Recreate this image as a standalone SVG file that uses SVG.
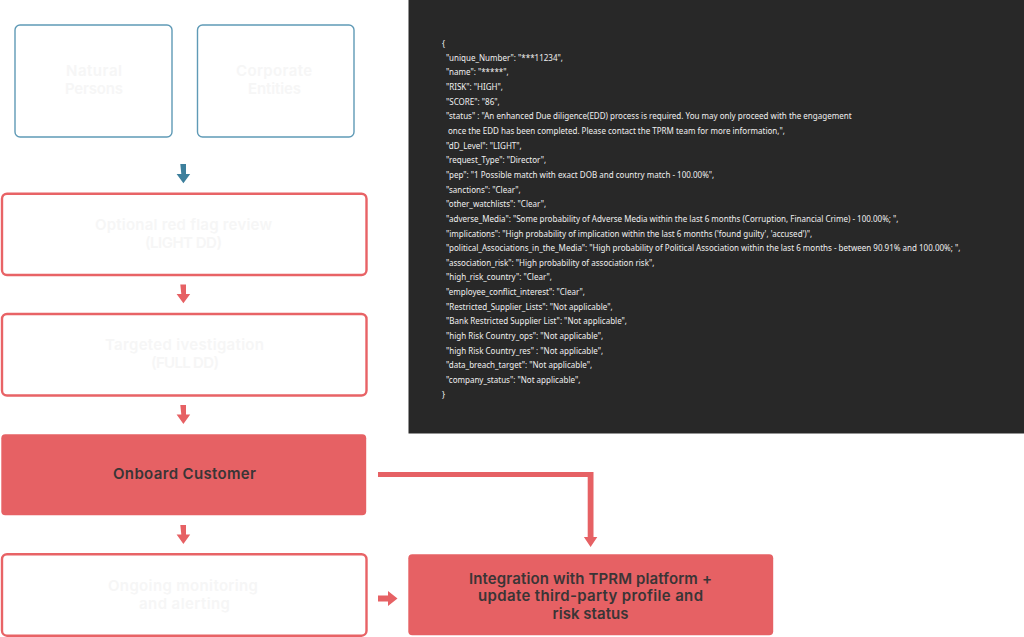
<svg xmlns="http://www.w3.org/2000/svg" width="1024" height="637" viewBox="0 0 1024 637">
<style>
.box{fill:#fff;stroke:#e86366;stroke-width:2.4}
.ent{fill:#fff;stroke:#5f9ab6;stroke-width:1.4}
.solid{fill:#e66164}
text{font-family:"Inter","Liberation Sans",sans-serif;font-weight:600;text-anchor:middle}
.lab{font-size:15px;fill:#f6f6f6}
.dark{font-size:15px;fill:#3a3536}
.j{font-family:"Noto Sans","Open Sans",sans-serif;font-size:8.03px;font-weight:400;fill:#f0f0f0;text-anchor:start}
.ar{fill:#e66164}
.bl{fill:#3d7f9c}
</style>
<rect width="1024" height="637" fill="#fff"/>
<g id="json-panel">
<rect x="408.500" y="0" width="615.500" height="433.500" fill="#282828"/>
<text class="j" x="442" y="46.500">{</text>
<text class="j" x="446" y="60.500">"unique_Number": "***11234",</text>
<text class="j" x="446" y="75">"name": "*****",</text>
<text class="j" x="446" y="89.800">"RISK": "HIGH",</text>
<text class="j" x="446" y="104.500">"SCORE": "86",</text>
<text class="j" x="446" y="119">"status" : "An enhanced Due diligence(EDD) process is required. You may only proceed with the engagement</text>
<text class="j" x="448" y="133.800">once the EDD has been completed. Please contact the TPRM team for more information,",</text>
<text class="j" x="446" y="148.500">"dD_Level": "LIGHT",</text>
<text class="j" x="446" y="163">"request_Type": "Director",</text>
<text class="j" x="446" y="177.800">"pep": "1 Possible match with exact DOB and country match - 100.00%",</text>
<text class="j" x="446" y="192.500">"sanctions": "Clear",</text>
<text class="j" x="446" y="207">"other_watchlists": "Clear",</text>
<text class="j" x="446" y="221.800">"adverse_Media": "Some probability of Adverse Media within the last 6 months (Corruption, Financial Crime) - 100.00%; ",</text>
<text class="j" x="446" y="236.500">"implications": "High probability of implication within the last 6 months ('found guilty', 'accused')",</text>
<text class="j" x="446" y="251">"political_Associations_in_the_Media": "High probability of Political Association within the last 6 months - between 90.91% and 100.00%; ",</text>
<text class="j" x="446" y="265.800">"association_risk": "High probability of association risk",</text>
<text class="j" x="446" y="280">"high_risk_country": "Clear",</text>
<text class="j" x="446" y="295">"employee_conflict_interest": "Clear",</text>
<text class="j" x="446" y="309.500">"Restricted_Supplier_Lists": "Not applicable",</text>
<text class="j" x="446" y="324">"Bank Restricted Supplier List": "Not applicable",</text>
<text class="j" x="446" y="338.800">"high Risk Country_ops": "Not applicable",</text>
<text class="j" x="446" y="353.500">"high Risk Country_res" : "Not applicable",</text>
<text class="j" x="446" y="368">"data_breach_target": "Not applicable",</text>
<text class="j" x="446" y="382.800">"company_status": "Not applicable",</text>
<text class="j" x="442" y="398">}</text>
</g>
<g id="connectors">
<path class="bl" d="M180.300 164h5.700v10h4.200l-6.800 9.300-6.800-9.300h4.700z"/>
<path class="ar" d="M180.300 284.500h5.700v9.500h4.200l-6.800 9.300-6.800-9.300h4.700z"/>
<path class="ar" d="M180.300 405h5.700v9.500h4.200l-6.800 9.500-6.800-9.500h4.700z"/>
<path class="ar" d="M180.300 525h5.700v9.500h4.200l-6.800 9.500-6.800-9.500h4.700z"/>
<path class="ar" d="M378 472h215.500v65h3.800l-6.700 10-6.700-10h3.800v-60h-209.700z"/>
<path class="ar" d="M378 595.500h10v-4.500l9.500 7.500-9.500 7.500v-4.500h-10z"/>
</g>
<g id="natural-persons"><rect class="ent" x="15" y="25" width="157" height="112" rx="5"/><text class="lab" x="94" y="76" textLength="56">Natural</text><text class="lab" x="94" y="93.500" textLength="58">Persons</text></g>
<g id="corporate-entities"><rect class="ent" x="197.500" y="25" width="156.500" height="112" rx="5"/><text class="lab" x="274" y="76" textLength="76">Corporate</text><text class="lab" x="274.500" y="93.500" textLength="53">Entities</text></g>
<g id="red-flag"><rect class="box" x="2" y="193.700" width="364.500" height="81.300" rx="5"/><text class="lab" x="183.500" y="230" textLength="177">Optional red flag review</text><text class="lab" x="183.500" y="248" textLength="77">(LIGHT DD)</text></g>
<g id="targeted"><rect class="box" x="2" y="314" width="364.500" height="81.500" rx="5"/><text class="lab" x="184.500" y="350" textLength="159">Targeted ivestigation</text><text class="lab" x="185" y="368" textLength="68">(FULL DD)</text></g>
<g id="onboard"><rect class="solid" x="1.300" y="434.300" width="364.900" height="81" rx="4"/><text class="dark" x="184.500" y="479" textLength="143">Onboard Customer</text></g>
<g id="monitoring"><rect class="box" x="2" y="554.200" width="364.500" height="81.500" rx="5"/><text class="lab" x="183" y="590.500" textLength="150">Ongoing monitoring</text><text class="lab" x="184.500" y="608.500" textLength="91">and alerting</text></g>
<g id="integration"><rect class="solid" x="408.300" y="554.300" width="364.900" height="81" rx="4"/><text class="dark" x="590.500" y="583.500" textLength="243">Integration with TPRM platform +</text><text class="dark" x="590.500" y="601" textLength="225">update third-party profile and</text><text class="dark" x="590.500" y="618.500" textLength="76">risk status</text></g>
</svg>
